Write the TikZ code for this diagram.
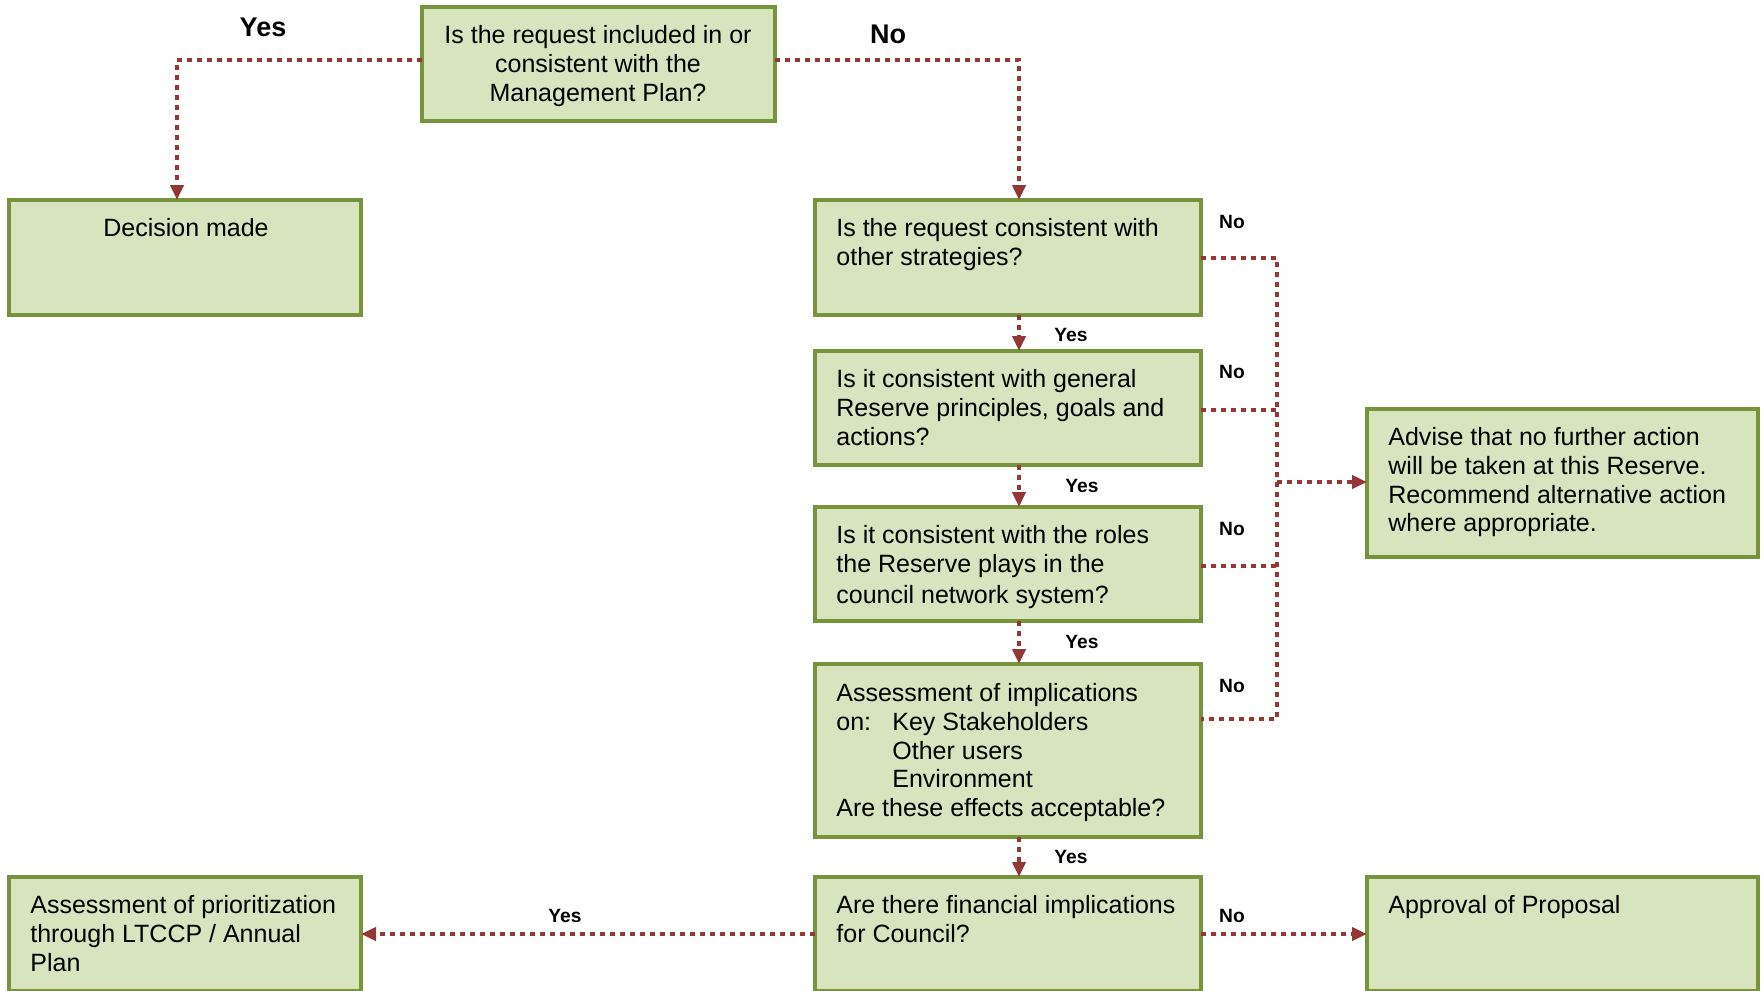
\documentclass[tikz,border=0pt]{standalone}
\usepackage{fontspec}
\setmainfont{Liberation Sans}
\usetikzlibrary{arrows.meta,calc}
\definecolor{boxfill}{HTML}{D7E4BD}
\definecolor{boxline}{HTML}{77933C}
\definecolor{connred}{HTML}{953735}
\tikzset{
  box/.style={draw=boxline, fill=boxfill, line width=2pt, inner sep=0pt, outer sep=0pt, anchor=north west, rectangle},
  txt/.style={inner sep=0pt, align=left, anchor=north west, font=\fontsize{12.5}{14.4}\selectfont},
  conn/.style={draw=connred, line width=2.2pt, dash pattern=on 2.3pt off 2.7pt},
  arr/.style={conn, -{Triangle[length=7.5pt,width=6.5pt]}},
  biglab/.style={font=\bfseries\fontsize{13.5}{16}\selectfont, inner sep=0pt},
  smlab/.style={font=\bfseries\fontsize{9.6}{11}\selectfont, inner sep=0pt}
}
\begin{document}
\begin{tikzpicture}[x=0.5pt,y=-0.5pt]
\useasboundingbox[fill=white] (0,0) rectangle (1764,990);
\clip (0,0) rectangle (1764,990);
% boxes
\node[box, minimum width=176.5pt, minimum height=57pt] (top) at (422,7) {};
\node[box, minimum width=176pt, minimum height=57.5pt] (dec) at (9,200) {};
\node[box, minimum width=193pt, minimum height=57.5pt] (b2) at (815,200) {};
\node[box, minimum width=193pt, minimum height=57pt] (b3) at (815,351) {};
\node[box, minimum width=193pt, minimum height=57pt] (b4) at (815,507) {};
\node[box, minimum width=193pt, minimum height=86.5pt] (b5) at (815,664) {};
\node[box, minimum width=193pt, minimum height=57pt] (b6) at (815,877) {};
\node[box, minimum width=176pt, minimum height=57pt] (prio) at (9,877) {};
\node[box, minimum width=195.5pt, minimum height=57pt] (appr) at (1367,877) {};
\node[box, minimum width=195.5pt, minimum height=74pt] (adv) at (1367,409) {};
% texts
\node[txt, anchor=north, align=center] (ttop) at (598,25) {Is the request included in or\\consistent with the\\Management Plan?};
\node[txt, anchor=north, align=center] (tdec) at (186,218) {Decision made};
\node[txt] (tb2) at (836,218) {Is the request consistent with\\other strategies?};
\node[txt] (tb3) at (836,369) {Is it consistent with general\\Reserve principles, goals and\\actions?};
\node[txt] (tb4) at (836,525) {Is it consistent with the roles\\the Reserve plays in the\\[1pt]council network system?};
\node[txt] (tb5) at (836,683) {Assessment of implications\\\makebox[28pt][l]{on:}Key Stakeholders\\\hspace*{28pt}Other users\\\hspace*{28pt}Environment\\Are these effects acceptable?};
\node[txt] (tb6) at (836,895) {Are there financial implications\\for Council?};
\node[txt] (tprio) at (30,895) {Assessment of prioritization\\through LTCCP / Annual\\Plan};
\node[txt] (tappr) at (1388,895) {Approval of Proposal};
\node[txt] (tadv) at (1388,427) {Advise that no further action\\will be taken at this Reserve.\\Recommend alternative action\\where appropriate.};
% connectors from top
\coordinate (yesL) at ($(top.west)+(0,-4)$);
\coordinate (noR) at ($(top.east)+(0,-4)$);
\draw[arr] (yesL) -| ($(dec.north)+(-8,0)$);
\draw[arr] (noR) -| ($(b2.north)+(11,0)$);
\node[biglab] (lyes) at (263,27) {Yes};
\node[biglab] (lno) at (888,34) {No};
% vertical chain
\draw[arr] ($(b2.south)+(11,0)$) -- ($(b3.north)+(11,0)$);
\draw[arr] ($(b3.south)+(11,0)$) -- ($(b4.north)+(11,0)$);
\draw[arr] ($(b4.south)+(11,0)$) -- ($(b5.north)+(11,0)$);
\draw[arr] ($(b5.south)+(11,0)$) -- ($(b6.north)+(11,0)$);
\node[smlab] (y1) at (1071,335) {Yes};
\node[smlab] (y2) at (1082,486) {Yes};
\node[smlab] (y3) at (1082,642) {Yes};
\node[smlab] (y4) at (1071,857) {Yes};
% No bus
\coordinate (bus2) at (1277,258);
\coordinate (bus3) at (1277,410);
\coordinate (bus4) at (1277,566);
\coordinate (bus5) at (1277,719);
\coordinate (busA) at (1277,482);
\coordinate (b5e) at (b5.east |- bus5);
\draw[conn] (b2.east |- bus2) -- (bus2) -- (bus5) -- (b5e);
\draw[conn] (b3.east |- bus3) -- (bus3);
\draw[conn] (b4.east |- bus4) -- (bus4);
\draw[arr] (busA) -- (adv.west |- busA);
\node[smlab] (n1) at (1232,222) {No};
\node[smlab] (n2) at (1232,372) {No};
\node[smlab] (n3) at (1232,529) {No};
\node[smlab] (n4) at (1232,686) {No};
% bottom
\coordinate (b6w) at (b6.west |- 0,934);
\coordinate (b6e) at (b6.east |- 0,934);
\draw[arr] (b6w) -- (prio.east |- b6w);
\draw[arr] (b6e) -- (appr.west |- b6e);
\node[smlab] (y5) at (565,916) {Yes};
\node[smlab] (n5) at (1232,916) {No};
\end{tikzpicture}
\end{document}
